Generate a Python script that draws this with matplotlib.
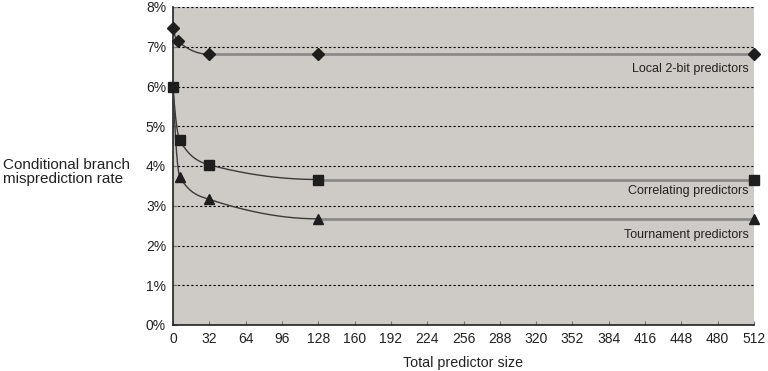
import numpy as np
import matplotlib.pyplot as plt
from matplotlib.ticker import FuncFormatter

# datos (tamano del predictor, tasa de fallo en %)
local_x = [0, 4, 32, 128, 512]
local_y = [7.47, 7.15, 6.81, 6.81, 6.81]
corr_x = [0, 6, 32, 128, 512]
corr_y = [6.0, 4.65, 4.03, 3.66, 3.66]
tour_x = [0, 6, 32, 128, 512]
tour_y = [6.0, 3.73, 3.16, 2.67, 2.67]
tour_marked = [False, True, True, True, True]

x_ticks = list(range(0, 513, 32))
y_ticks = list(range(0, 9))

plt.rcParams['font.family'] = ['Liberation Sans', 'DejaVu Sans']


def suave(xs, ys, n=200):
    # curva monotona (hermite) por los puntos de la parte curva
    xs = np.asarray(xs, float)
    ys = np.asarray(ys, float)
    h = np.diff(xs)
    d = np.diff(ys) / h
    m = np.zeros_like(ys)
    for i in range(1, len(xs) - 1):
        if d[i - 1] * d[i] > 0:
            w1 = 2 * h[i] + h[i - 1]
            w2 = h[i] + 2 * h[i - 1]
            m[i] = (w1 + w2) / (w1 / d[i - 1] + w2 / d[i])
    m[0] = 1.8 * d[0]
    m[-1] = 0.0
    out_x, out_y = [], []
    for i in range(len(xs) - 1):
        t = np.linspace(0, 1, n)
        h00 = 2 * t**3 - 3 * t**2 + 1
        h10 = t**3 - 2 * t**2 + t
        h01 = -2 * t**3 + 3 * t**2
        h11 = t**3 - t**2
        out_x.append(xs[i] + t * h[i])
        out_y.append(h00 * ys[i] + h10 * h[i] * m[i] + h01 * ys[i + 1] + h11 * h[i] * m[i + 1])
    return np.concatenate(out_x), np.concatenate(out_y)


fig = plt.figure(figsize=(7.68, 3.71), dpi=100)
ax = fig.add_axes([173 / 768, 1 - 325 / 371, 581 / 768, 318 / 371])
ax.set_facecolor('#cecbc6')

# (x, y, marcador, tamano, marcados, puntos de la curva)
series = [
    (local_x, local_y, 'D', 6, [True] * 5, 3),
    (corr_x, corr_y, 's', 6.5, [True] * 5, 4),
    (tour_x, tour_y, '^', 7, tour_marked, 4),
]
for xs, ys, mk, ms, marked, ncurve in series:
    cx, cy = suave(xs[:ncurve], ys[:ncurve])
    ax.plot(cx, cy, color='#3a3a3a', lw=1.0, zorder=3)
    ax.plot(xs[ncurve - 1:], ys[ncurve - 1:], color='#8a8a8a', lw=2.0, zorder=2)
    mx = [x for x, k in zip(xs, marked) if k]
    my = [y for y, k in zip(ys, marked) if k]
    ax.plot(mx, my, linestyle='none', marker=mk, ms=ms, color='#1e1e1e',
            zorder=4, clip_on=False)

ax.set_xlim(0, 512)
ax.set_ylim(0, 8)
ax.set_xticks(x_ticks)
ax.set_yticks(y_ticks)
ax.yaxis.set_major_formatter(FuncFormatter(lambda v, p: f'{int(v)}%'))
ax.grid(axis='y', color='black', linestyle=(0, (2, 2)), lw=0.8)
ax.set_axisbelow(True)
for s in ['top', 'right']:
    ax.spines[s].set_visible(False)
for s in ['left', 'bottom']:
    ax.spines[s].set_linewidth(1.2)
    ax.spines[s].set_color('#222222')
ax.tick_params(direction='in', length=3, width=0.8, color='#777777',
               labelsize=10, labelcolor='#222222', pad=5)

ax.set_xlabel('Total predictor size', fontsize=10.3, color='#222222', labelpad=7)
fig.text(3 / 768, 1 - 172 / 371, 'Conditional branch\nmisprediction rate',
         fontsize=11, color='#222222', ha='left', va='center', linespacing=1.05)

ax.text(507.5, 6.45, 'Local 2-bit predictors', fontsize=9, color='#222222',
        ha='right', va='center')
ax.text(507.5, 3.36, 'Correlating predictors', fontsize=9, color='#222222',
        ha='right', va='center')
ax.text(507.5, 2.26, 'Tournament predictors', fontsize=9, color='#222222',
        ha='right', va='center')

fig.savefig('out.png', dpi=100)
